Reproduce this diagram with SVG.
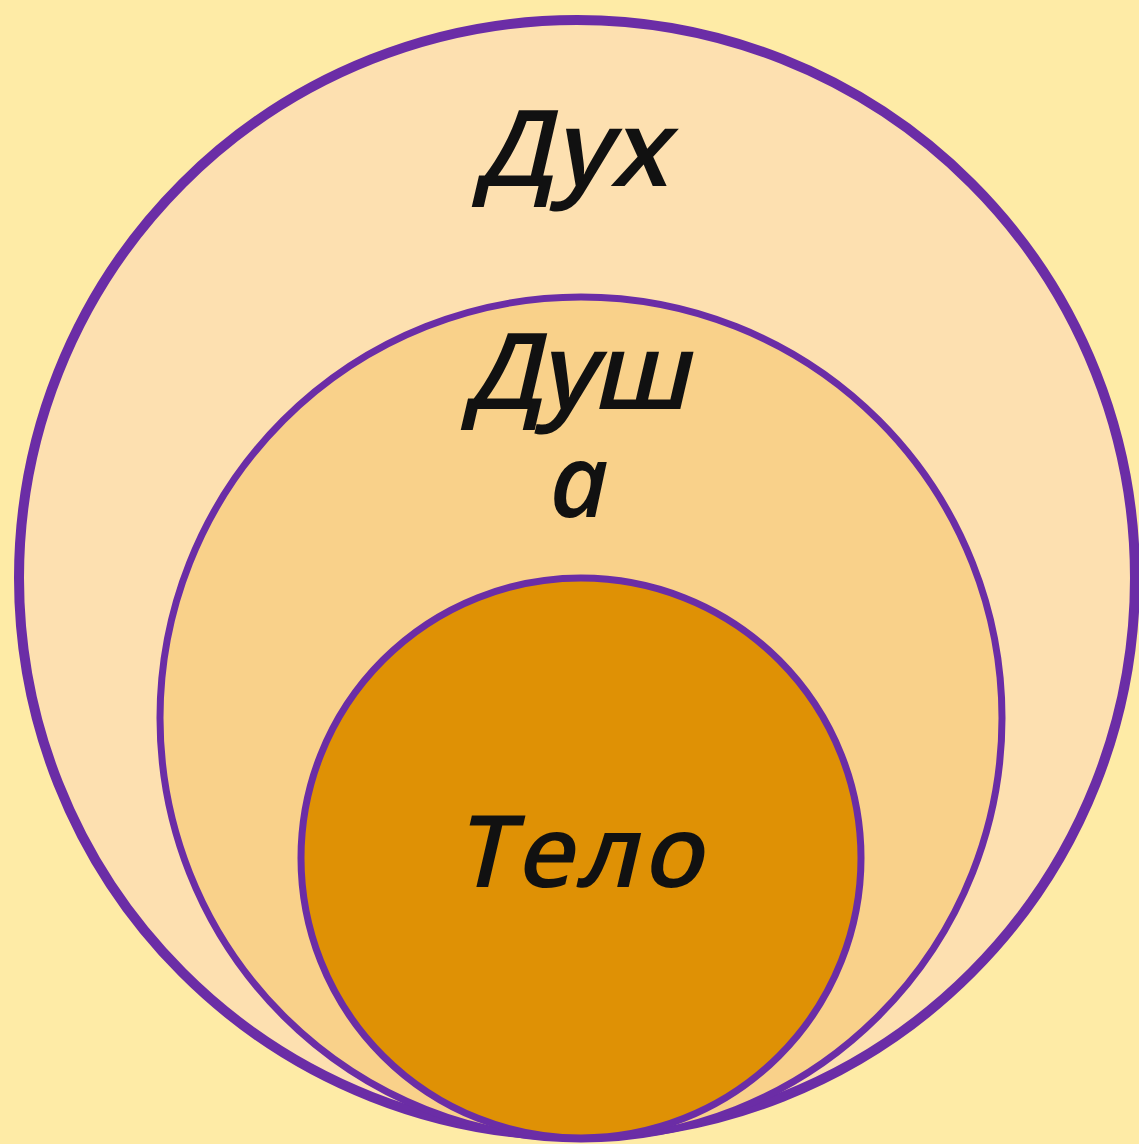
<svg xmlns="http://www.w3.org/2000/svg" width="1139" height="1144" viewBox="0 0 1139 1144">
<style>
.lbl{font-family:"Open Sans","Noto Sans",sans-serif;font-weight:600;fill:#111;text-anchor:middle}
.ring{stroke:#6B2DA6}
</style>
<rect width="1139" height="1144" fill="#FEEBA6"/>
<g id="dukh">
<circle class="ring" cx="577" cy="578" r="558" fill="#FDE0B0" stroke-width="10"/>
<text class="lbl" transform="translate(572,186) skewX(-13)" font-size="106">Дух</text>
</g>
<g id="dusha">
<circle class="ring" cx="581" cy="718" r="421" fill="#F9D18A" stroke-width="7"/>
<text class="lbl" transform="translate(575,409) skewX(-13)" font-size="106" letter-spacing="-4">Душ</text>
<text class="lbl" x="579" y="517" font-size="102" font-style="italic">а</text>
</g>
<g id="telo">
<circle class="ring" cx="581" cy="858" r="280" fill="#DF9105" stroke-width="7"/>
<text class="lbl" transform="translate(580,887) skewX(-13)" font-size="100" letter-spacing="4">Тело</text>
</g>
<g id="connectors"/>
</svg>
